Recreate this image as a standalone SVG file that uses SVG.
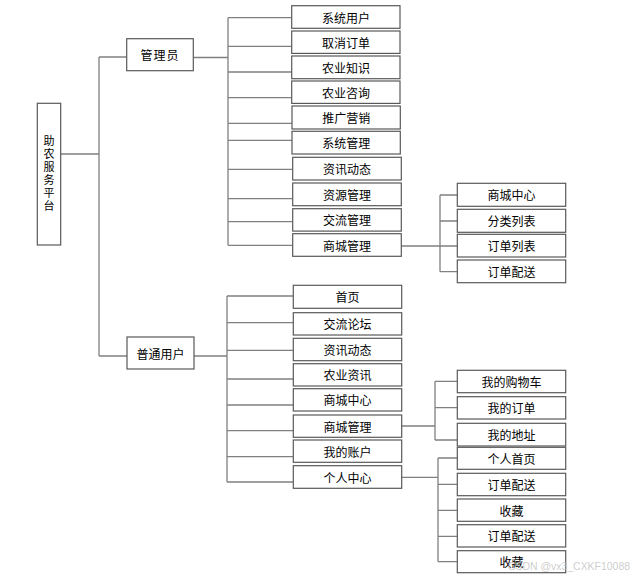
<svg xmlns="http://www.w3.org/2000/svg" width="640" height="578" viewBox="0 0 640 578">
<style>
.b{fill:#fff;stroke:#595959;stroke-width:1.2}
.t{font-family:"Noto Sans CJK SC","Noto Sans",sans-serif;font-size:12px;fill:#000;text-anchor:middle;dominant-baseline:central}
.c{fill:none;stroke:#808080;stroke-width:1.3}
.wm{font-family:"Liberation Sans",sans-serif;font-size:11px;fill:#bfbfbf;fill-opacity:0.8}
</style>
<rect width="640" height="578" fill="#fff"/>
<g id="connectors" class="c">
<path d="M61 154H99M99 57V356M99 57H127M99 356H127"/>
<path d="M193 57.5H228M228 17.7V245.3M228 17.7H292M228 46.3H292M228 72H292M228 97.7H292M228 123.3H292M228 140.3H292M228 169.3H293M228 198.7H293M228 221.7H293M228 245.3H293"/>
<path d="M401 246H440M440 195V271.7M440 195H457M440 221H457M440 246H457M440 271.7H457"/>
<path d="M194 356H227M227 296V482M227 296H293M227 322.7H293M227 350.3H293M227 379H293M227 405H293M227 430.7H293M227 456.7H293M227 482H293"/>
<path d="M401 426H435M435 381.3V440M435 381.3H457M435 407.7H457M435 440H457"/>
<path d="M401 477.3H438M438 458V561.7M438 458H457M438 484.3H457M438 510.3H457M438 536.3H457M438 561.7H457"/>
</g>
<g id="root"><rect class="b" x="37.3" y="103.3" width="23.4" height="141.7"/>
<text x="49" y="135.5" style="font-family:'Noto Sans CJK SC','Noto Sans',sans-serif;font-size:11px;fill:#000;writing-mode:vertical-rl;letter-spacing:2px">助农服务平台</text></g>
<g id="admin"><rect class="b" x="126.7" y="38.7" width="66.6" height="32"/><text class="t" x="160" y="54.7" letter-spacing="1">管理员</text></g>
<g id="a1"><rect class="b" x="291.7" y="5.7" width="108.3" height="22.6"/><text class="t" x="346" y="17">系统用户</text></g>
<g id="a2"><rect class="b" x="291.7" y="31" width="108.3" height="22.4"/><text class="t" x="346" y="42.2">取消订单</text></g>
<g id="a3"><rect class="b" x="291.7" y="56" width="108.3" height="22.7"/><text class="t" x="346" y="67.3">农业知识</text></g>
<g id="a4"><rect class="b" x="291.7" y="81" width="108.3" height="22.4"/><text class="t" x="346" y="92.2">农业咨询</text></g>
<g id="a5"><rect class="b" x="292" y="106" width="108.3" height="23"/><text class="t" x="346.2" y="117.5">推广营销</text></g>
<g id="a6"><rect class="b" x="292" y="131.3" width="108.3" height="22.7"/><text class="t" x="346.2" y="142.7">系统管理</text></g>
<g id="a7"><rect class="b" x="292.7" y="157.3" width="108.6" height="22.7"/><text class="t" x="347" y="168.7">资讯动态</text></g>
<g id="a8"><rect class="b" x="292.7" y="183" width="108.6" height="22.7"/><text class="t" x="347" y="194.3">资源管理</text></g>
<g id="a9"><rect class="b" x="292.7" y="208.7" width="108.6" height="22.4"/><text class="t" x="347" y="219.9">交流管理</text></g>
<g id="a10"><rect class="b" x="292.7" y="233.7" width="108.6" height="22.6"/><text class="t" x="347" y="245">商城管理</text></g>
<g id="m1"><rect class="b" x="457.3" y="183.3" width="108.4" height="23"/><text class="t" x="511.5" y="194.8">商城中心</text></g>
<g id="m2"><rect class="b" x="457.3" y="209.3" width="108.4" height="23"/><text class="t" x="511.5" y="220.8">分类列表</text></g>
<g id="m3"><rect class="b" x="457.3" y="234.3" width="108.4" height="22.7"/><text class="t" x="511.5" y="245.7">订单列表</text></g>
<g id="m4"><rect class="b" x="457.3" y="260" width="108.4" height="22.7"/><text class="t" x="511.5" y="271.3">订单配送</text></g>
<g id="user"><rect class="b" x="127" y="337" width="67" height="32"/><text class="t" x="160.5" y="353">普通用户</text></g>
<g id="u1"><rect class="b" x="293.3" y="285.3" width="108.4" height="23"/><text class="t" x="347.5" y="296.8">首页</text></g>
<g id="u2"><rect class="b" x="293.3" y="312.7" width="108.4" height="22.3"/><text class="t" x="347.5" y="323.8">交流论坛</text></g>
<g id="u3"><rect class="b" x="293.3" y="338.3" width="108.4" height="22.4"/><text class="t" x="347.5" y="349.5">资讯动态</text></g>
<g id="u4"><rect class="b" x="293.3" y="363.7" width="108.4" height="22.3"/><text class="t" x="347.5" y="374.8">农业资讯</text></g>
<g id="u5"><rect class="b" x="293.3" y="388.7" width="108.4" height="22.3"/><text class="t" x="347.5" y="399.8">商城中心</text></g>
<g id="u6"><rect class="b" x="293.3" y="415" width="108.4" height="22.3"/><text class="t" x="347.5" y="426.1">商城管理</text></g>
<g id="u7"><rect class="b" x="293.3" y="440" width="108.4" height="22.3"/><text class="t" x="347.5" y="451.1">我的账户</text></g>
<g id="u8"><rect class="b" x="293.3" y="465.7" width="108.4" height="22.6"/><text class="t" x="347.5" y="477">个人中心</text></g>
<g id="s1"><rect class="b" x="457.3" y="370.3" width="108.4" height="22.4"/><text class="t" x="511.5" y="381.5">我的购物车</text></g>
<g id="s2"><rect class="b" x="457.3" y="396.7" width="108.4" height="22.3"/><text class="t" x="511.5" y="407.8">我的订单</text></g>
<g id="s3"><rect class="b" x="457.3" y="423.3" width="108.4" height="22.7"/><text class="t" x="511.5" y="434.6">我的地址</text></g>
<g id="p1"><rect class="b" x="457.3" y="447.3" width="108.4" height="22"/><text class="t" x="511.5" y="458.3">个人首页</text></g>
<g id="p2"><rect class="b" x="457.3" y="473.3" width="108.4" height="22.4"/><text class="t" x="511.5" y="484.5">订单配送</text></g>
<g id="p3"><rect class="b" x="457.3" y="499" width="108.4" height="22.3"/><text class="t" x="511.5" y="510.1">收藏</text></g>
<g id="p4"><rect class="b" x="457.3" y="524.7" width="108.4" height="22.3"/><text class="t" x="511.5" y="535.8">订单配送</text></g>
<g id="p5"><rect class="b" x="457.3" y="550.7" width="108.4" height="22"/><text class="t" x="511.5" y="561.7">收藏</text></g>
<text class="wm" x="508" y="570" textLength="122" lengthAdjust="spacingAndGlyphs">CSDN @vx3_CXKF10088</text>
</svg>
